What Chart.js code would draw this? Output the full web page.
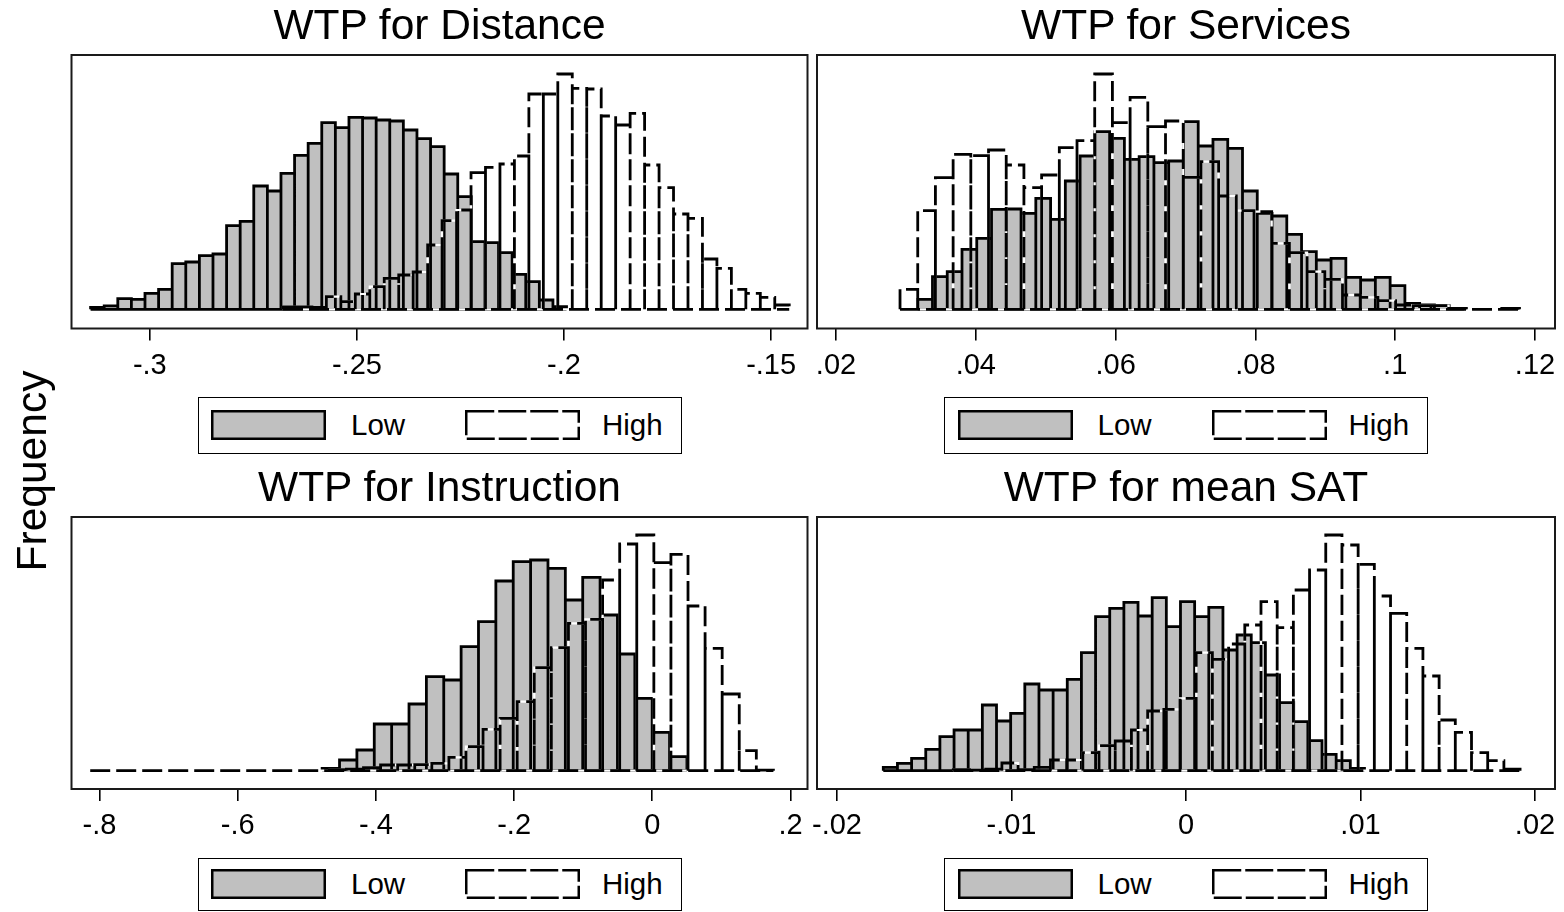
<!DOCTYPE html>
<html>
<head>
<meta charset="utf-8">
<script src="https://cdn.jsdelivr.net/npm/chart.js@4.4.1/dist/chart.umd.min.js"></script>
<style>
html,body{margin:0;padding:0;background:#fff;}
body{width:1564px;height:912px;position:relative;overflow:hidden;font-family:'Liberation Sans',Arial,Helvetica,sans-serif;color:#000;}
canvas{position:absolute;}
.title{position:absolute;width:800px;text-align:center;font-size:42.5px;line-height:42.5px;white-space:nowrap;}
.ylab{position:absolute;left:-118px;top:450px;width:300px;height:42px;line-height:42px;font-size:42.5px;text-align:center;transform:rotate(-90deg);white-space:nowrap;}
.legend{position:absolute;width:484px;box-sizing:border-box;border:1.5px solid #000;background:#fff;}
.sw{position:absolute;width:115px;height:30px;}
.lt{position:absolute;height:30px;line-height:30px;font-size:29.5px;white-space:nowrap;}
</style>
</head>
<body>
<script>
// ---------------- DATA ----------------
const titles = ['WTP for Distance', 'WTP for Services', 'WTP for Instruction', 'WTP for mean SAT'];
const legendLabels = ['Low', 'High'];
const yTitle = 'Frequency';

// Panel 1: WTP for Distance (bin start, bin width, bar heights)
const low1Start = -0.3143, low1Width = 0.003283;
const low1 = [2, 3.5, 10.7, 10, 16, 20, 45.7, 47.3, 53.7, 55.3, 83.7, 88, 123.3, 118.3, 136, 154, 166, 186.7, 181.7, 192, 191.3, 189.3, 188.3, 179.3, 170.7, 162.7, 135.3, 112.7, 67.7, 66.7, 56.7, 35, 27.7, 9.3, 2.7];
const high1Start = -0.26785, high1Width = 0.003492;
const high1 = [2.5, 2.5, 2, 12.7, 7.7, 15.3, 22.7, 31, 34.3, 37.3, 64.3, 88.7, 99.3, 136.7, 142, 145.3, 153.3, 215.3, 215.3, 235.3, 221, 220.3, 193.3, 184.3, 196, 144.3, 121.7, 95.3, 91, 50.3, 41, 20, 16, 12, 4.3];
const xRange1 = [-0.31891, -0.14122];
const ticks1 = [-0.3, -0.25, -0.2, -0.15];
const tickLabels1 = ['-.3', '-.25', '-.2', '-.15'];

// Panel 2: WTP for Services
const low2Start = 0.03169, low2Width = 0.002112;
const low2 = [10, 32.7, 37.7, 60, 71, 100, 100.3, 96, 111, 90, 128.3, 153.3, 177.7, 171, 150, 152.7, 146.7, 148.3, 187.6, 163.3, 170, 161, 118.3, 96, 93.3, 75, 57.7, 49.3, 51, 32, 29.3, 32, 23.7, 6, 4.3, 3.7, 1];
const high2Start = 0.02916, high2Width = 0.002532;
const high2 = [20, 98.7, 131.7, 155, 153.7, 159.3, 144.3, 121.7, 134.3, 161.7, 168.7, 235.3, 186.7, 212, 182.7, 188.3, 132, 147.6, 113.3, 98.7, 97.6, 66, 56.7, 37.7, 30, 14.3, 12, 8.7, 4.3, 3.7, 3.7, 1, 0, 0, 1];
const xRange2 = [0.017282, 0.122861];
const ticks2 = [0.02, 0.04, 0.06, 0.08, 0.1, 0.12];
const tickLabels2 = ['.02', '.04', '.06', '.08', '.1', '.12'];

// Panel 3: WTP for Instruction
const low3Start = -0.4778, low3Width = 0.02514;
const low3 = [2.3, 10.7, 20.7, 46.7, 46.7, 66.7, 94, 90.7, 124, 149, 189.7, 209, 210.7, 202.3, 170.7, 193.3, 155.7, 116.7, 72.3, 38.3, 14];
const high3Start = -0.8135, high3Width = 0.02472;
const high3 = [0, 0, 0, 0, 0, 0, 0, 0, 0, 0, 0, 0, 0, 0, 1, 1.5, 3, 5.7, 5.7, 6, 7.3, 13.3, 24, 41.3, 52.3, 69, 103, 123, 147.3, 151.3, 190.7, 226.7, 235.7, 208, 216.3, 164.7, 122.3, 76.7, 20, 0.5];
const xRange3 = [-0.84058, 0.22464];
const ticks3 = [-0.8, -0.6, -0.4, -0.2, 0, 0.2];
const tickLabels3 = ['-.8', '-.6', '-.4', '-.2', '0', '.2'];

// Panel 4: WTP for mean SAT
const low4Start = -0.017347, low4Width = 0.000811;
const low4 = [3.3, 7.3, 12.3, 21.3, 34, 40.7, 40.7, 65.7, 49.7, 57.3, 86.7, 80.7, 80.7, 91.3, 118, 154, 162.3, 168.3, 154.7, 173, 144, 169, 154, 163.3, 120.7, 135.7, 128, 95.7, 68, 49, 30, 16.3, 10, 2.3];
const high4Start = -0.013335, high4Width = 0.000928;
const high4 = [1, 0.5, 1.5, 7.7, 1, 3.3, 10.7, 10.7, 18, 25, 29.7, 40.7, 59.7, 61.3, 72.3, 118, 111.3, 126.7, 145.7, 169, 143, 180.7, 200.7, 235.7, 225.7, 206.3, 174.7, 157.3, 122.3, 94.7, 50.7, 38.3, 18, 10, 1.5];
const xRange4 = [-0.021146, 0.021146];
const ticks4 = [-0.02, -0.01, 0, 0.01, 0.02];
const tickLabels4 = ['-.02', '-.01', '0', '.01', '.02'];

// ---------------- LAYOUT / STYLE ----------------
const FONT = "'Liberation Sans', Arial, Helvetica, sans-serif";
const GRAY = '#c0c0c0';
const LW = 2.8;
const panels = [
  {title: titles[0], lowStart: low1Start, lowWidth: low1Width, low: low1, highStart: high1Start, highWidth: high1Width, high: high1, xRange: xRange1, tickVals: ticks1, tickText: tickLabels1, col: 0, row: 0},
  {title: titles[1], lowStart: low2Start, lowWidth: low2Width, low: low2, highStart: high2Start, highWidth: high2Width, high: high2, xRange: xRange2, tickVals: ticks2, tickText: tickLabels2, col: 1, row: 0},
  {title: titles[2], lowStart: low3Start, lowWidth: low3Width, low: low3, highStart: high3Start, highWidth: high3Width, high: high3, xRange: xRange3, tickVals: ticks3, tickText: tickLabels3, col: 0, row: 1},
  {title: titles[3], lowStart: low4Start, lowWidth: low4Width, low: low4, highStart: high4Start, highWidth: high4Width, high: high4, xRange: xRange4, tickVals: ticks4, tickText: tickLabels4, col: 1, row: 1}
];
const cols = [
  {left: 0, width: 815, padL: 71.5, padR: 7.5, center: 439.5},
  {left: 790, width: 774, padL: 27, padR: 9, center: 1186}
];
const rows = [
  {top: 0, height: 389, padT: 55, padB: 0.5, yRange: [-19.2, 254.3], titleTop: 4, legendTop: 397, legendH: 57},
  {top: 462, height: 387, padT: 55, padB: 0, yRange: [-18.3, 253.7], titleTop: 466, legendTop: 858, legendH: 53}
];

function barPoints(start, w, vals) {
  return vals.map((v, i) => ({x: start + (i + 0.5) * w, y: v}));
}
// silhouette of the histogram (for a gap-free grey fill)
function silhouettePoints(start, w, vals) {
  const pts = [{x: start, y: 0}];
  vals.forEach((v, i) => { pts.push({x: start + i * w, y: v}, {x: start + (i + 1) * w, y: v}); });
  pts.push({x: start + vals.length * w, y: 0});
  return pts;
}
// each bar's rectangle outline + the common base line
function outlinePoints(start, w, vals) {
  const pts = [];
  vals.forEach((v, i) => {
    if (v <= 0) return;
    const a = start + i * w, b = a + w;
    pts.push({x: a, y: 0}, {x: a, y: v}, {x: b, y: v}, {x: b, y: 0}, {x: b, y: null});
  });
  pts.push({x: start, y: 0}, {x: start + vals.length * w, y: 0});
  return pts;
}

const boxPlugin = {
  id: 'plotBox',
  afterDraw(chart) {
    const {ctx, chartArea: a} = chart;
    ctx.save();
    ctx.strokeStyle = '#1a1a1a';
    ctx.lineWidth = 2;
    ctx.strokeRect(a.left, a.top, a.right - a.left, a.bottom - a.top);
    ctx.restore();
  }
};

const lineBase = {type: 'line', xAxisID: 'x', yAxisID: 'y', fill: false, pointRadius: 0, pointHitRadius: 0, tension: 0, spanGaps: false, borderJoinStyle: 'miter', borderCapStyle: 'butt'};

panels.forEach(p => {
  const c = cols[p.col], r = rows[p.row];
  const cv = document.createElement('canvas');
  cv.width = c.width; cv.height = r.height;
  cv.style.left = c.left + 'px'; cv.style.top = r.top + 'px';
  cv.style.width = c.width + 'px'; cv.style.height = r.height + 'px';
  document.body.appendChild(cv);

  new Chart(cv, {
    type: 'bar',
    data: {
      datasets: [
        Object.assign({}, lineBase, {label: legendLabels[0] + ' area', data: silhouettePoints(p.lowStart, p.lowWidth, p.low), fill: 'origin', backgroundColor: GRAY, borderWidth: 0, borderColor: 'rgba(0,0,0,0)', order: 6}),
        {type: 'bar', label: legendLabels[0], xAxisID: 'x', yAxisID: 'y', data: barPoints(p.lowStart, p.lowWidth, p.low), backgroundColor: GRAY, borderWidth: 0, barPercentage: 1, categoryPercentage: 1, order: 5},
        {type: 'bar', label: legendLabels[1], xAxisID: 'x2', yAxisID: 'y', data: barPoints(p.highStart, p.highWidth, p.high), backgroundColor: 'rgba(0,0,0,0)', borderWidth: 0, barPercentage: 1, categoryPercentage: 1, order: 4},
        Object.assign({}, lineBase, {label: legendLabels[0] + ' outline', data: outlinePoints(p.lowStart, p.lowWidth, p.low), borderColor: '#000', borderWidth: LW, order: 3}),
        Object.assign({}, lineBase, {label: legendLabels[1] + ' outline base', data: outlinePoints(p.highStart, p.highWidth, p.high), borderColor: '#fff', borderWidth: LW - 0.6, order: 2}),
        Object.assign({}, lineBase, {label: legendLabels[1] + ' outline', data: outlinePoints(p.highStart, p.highWidth, p.high), borderColor: '#000', borderWidth: LW, borderDash: [20, 6], order: 1})
      ]
    },
    options: {
      responsive: false,
      animation: false,
      events: [],
      layout: {padding: {left: c.padL, right: c.padR, top: r.padT, bottom: r.padB}},
      plugins: {legend: {display: false}, tooltip: {enabled: false}, title: {display: false}},
      scales: {
        x: {
          type: 'linear', position: 'bottom', min: p.xRange[0], max: p.xRange[1], offset: false,
          grid: {display: true, offset: false, drawOnChartArea: false, drawTicks: true, tickLength: 12, color: '#000', lineWidth: 1.6},
          border: {display: false},
          ticks: {autoSkip: false, maxRotation: 0, minRotation: 0, padding: 8, color: '#000', font: {family: FONT, size: 29}, callback: (v, i) => p.tickText[i]},
          afterBuildTicks: axis => { axis.ticks = p.tickVals.map(v => ({value: v})); },
          afterFit: axis => { axis.height = 60; }
        },
        x2: {type: 'linear', position: 'bottom', display: false, min: p.xRange[0], max: p.xRange[1], offset: false, grid: {offset: false}},
        y: {type: 'linear', display: false, min: r.yRange[0], max: r.yRange[1], stacked: false}
      }
    },
    plugins: [boxPlugin]
  });

  // title
  const t = document.createElement('div');
  t.className = 'title';
  t.textContent = p.title;
  t.style.left = (c.center - 400) + 'px';
  t.style.top = r.titleTop + 'px';
  document.body.appendChild(t);

  // legend
  const lg = document.createElement('div');
  lg.className = 'legend';
  lg.style.left = (c.center - 242) + 'px';
  lg.style.top = r.legendTop + 'px';
  lg.style.height = r.legendH + 'px';
  const swTop = (r.legendH - 3 - 30) / 2;
  const items = [
    {label: legendLabels[0], fill: GRAY, dash: '', swX: 12.5, txX: 152.5},
    {label: legendLabels[1], fill: '#fff', dash: '28 4', swX: 266.5, txX: 403.5}
  ];
  items.forEach(it => {
    const sw = document.createElement('div');
    sw.className = 'sw';
    sw.style.left = it.swX + 'px';
    sw.style.top = swTop + 'px';
    sw.innerHTML = '<svg width="115" height="30" xmlns="http://www.w3.org/2000/svg"><rect x="1.25" y="1.25" width="112.5" height="27.5" fill="' + it.fill + '" stroke="#000" stroke-width="2.5"' + (it.dash ? ' stroke-dasharray="' + it.dash + '"' : '') + '/></svg>';
    lg.appendChild(sw);
    const tx = document.createElement('div');
    tx.className = 'lt';
    tx.style.left = it.txX + 'px';
    tx.style.top = swTop + 'px';
    tx.textContent = it.label;
    lg.appendChild(tx);
  });
  document.body.appendChild(lg);
});

const yl = document.createElement('div');
yl.className = 'ylab';
yl.textContent = yTitle;
document.body.appendChild(yl);
</script>
</body>
</html>
